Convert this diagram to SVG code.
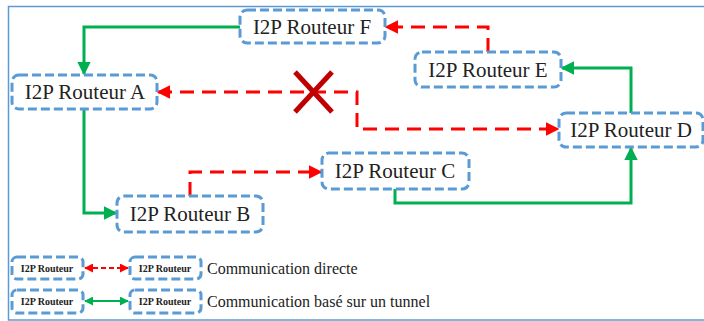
<svg xmlns="http://www.w3.org/2000/svg" width="704" height="321" viewBox="0 0 704 321">
<style>
.node{fill:#fff;stroke:#5b9bd5;stroke-width:3;stroke-dasharray:9 4}
.lbl{font-family:'Liberation Serif','DejaVu Serif','Times New Roman',serif;font-size:21px;fill:#222;text-anchor:middle;dominant-baseline:central}
.small{font-family:'Liberation Serif','DejaVu Serif','Times New Roman',serif;font-size:10px;font-weight:bold;fill:#222;text-anchor:middle;dominant-baseline:central}
.leg{font-family:'Liberation Serif','DejaVu Serif','Times New Roman',serif;font-size:16px;fill:#222;dominant-baseline:central}
.g{fill:none;stroke:#00b050;stroke-width:3}
.r{fill:none;stroke:#ff0000;stroke-width:3;stroke-dasharray:14 8}
</style>
<defs>
<marker id="ag" viewBox="0 0 10 10" refX="9" refY="5" markerWidth="4.5" markerHeight="4.5" orient="auto-start-reverse" markerUnits="strokeWidth"><path d="M0,0L10,5L0,10z" fill="#00b050"/></marker>
<marker id="ar" viewBox="0 0 10 10" refX="9" refY="5" markerWidth="4.5" markerHeight="4.5" orient="auto-start-reverse" markerUnits="strokeWidth"><path d="M0,0L10,5L0,10z" fill="#ff0000"/></marker>
</defs>
<rect x="0" y="0" width="704" height="321" fill="#fff"/>
<rect x="8.5" y="6.5" width="700" height="313.5" fill="none" stroke="#5b9bd5" stroke-width="1.5"/>
<g id="connectors">
<polyline class="g" points="240,27 84,27 84,74" marker-end="url(#ag)"/>
<polyline class="g" points="84,109 84,213 116,213" marker-end="url(#ag)"/>
<polyline class="r" points="190,196 190,172 321,172" marker-end="url(#ar)"/>
<polyline class="g" points="395,189 395,203 631,203 631,148" marker-end="url(#ag)"/>
<polyline class="g" points="631,113 631,68 562,68" marker-end="url(#ag)"/>
<polyline class="r" points="488,52 488,27 386,27" marker-end="url(#ar)"/>
<polyline class="r" points="158,92 357,92 357,129 558,129" marker-start="url(#ar)" marker-end="url(#ar)"/>
<g id="cross" stroke="#c00000" stroke-width="5" stroke-linecap="butt">
<line x1="295" y1="72" x2="332" y2="112"/>
<line x1="332" y1="72" x2="295" y2="112"/>
</g>
</g>
<g id="nodeF"><rect class="node" x="240" y="10" width="145" height="33" rx="7"/><text class="lbl" x="312" y="27">I2P Routeur F</text></g>
<g id="nodeA"><rect class="node" x="12" y="75" width="145" height="34" rx="7"/><text class="lbl" x="85" y="92">I2P Routeur A</text></g>
<g id="nodeE"><rect class="node" x="415" y="52" width="146" height="35" rx="7"/><text class="lbl" x="488" y="70">I2P Routeur E</text></g>
<g id="nodeD"><rect class="node" x="559" y="113" width="144" height="34" rx="7"/><text class="lbl" x="631" y="130">I2P Routeur D</text></g>
<g id="nodeC"><rect class="node" x="322" y="153" width="147" height="36" rx="7"/><text class="lbl" x="395" y="171">I2P Routeur C</text></g>
<g id="nodeB"><rect class="node" x="117" y="196" width="146" height="36" rx="7"/><text class="lbl" x="190" y="214">I2P Routeur B</text></g>
<g id="legend">
<rect class="node" x="12" y="257" width="71" height="22" rx="5"/><text class="small" x="47" y="268">I2P Routeur</text>
<rect class="node" x="130" y="257" width="71" height="22" rx="5"/><text class="small" x="165" y="268">I2P Routeur</text>
<line x1="85" y1="268" x2="128" y2="268" stroke="#ff0000" stroke-width="2" stroke-dasharray="5 3" marker-start="url(#ar)" marker-end="url(#ar)"/>
<text class="leg" x="207" y="268">Communication directe</text>
<rect class="node" x="12" y="290" width="71" height="23" rx="5"/><text class="small" x="47" y="301">I2P Routeur</text>
<rect class="node" x="130" y="290" width="71" height="23" rx="5"/><text class="small" x="165" y="301">I2P Routeur</text>
<line x1="85" y1="301" x2="128" y2="301" stroke="#00b050" stroke-width="2" marker-start="url(#ag)" marker-end="url(#ag)"/>
<text class="leg" x="207" y="301">Communication basé sur un tunnel</text>
</g>
</svg>
